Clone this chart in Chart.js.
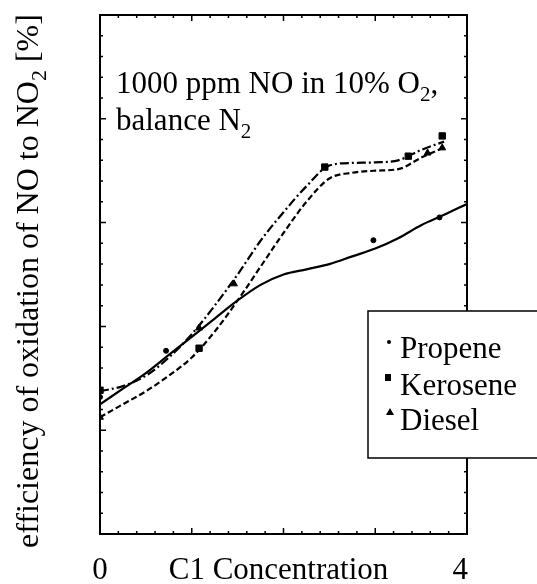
<!DOCTYPE html>
<html>
<head>
<meta charset="utf-8">
<script src="https://cdn.jsdelivr.net/npm/chart.js@4.4.0/dist/chart.umd.min.js"></script>
<style>
html, body { margin: 0; padding: 0; background: #fff; }
</style>
</head>
<body>
<canvas id="myChart" width="537" height="584"></canvas>
<script>
// Fitted curves
const fitX = [0, 0.25, 0.5, 0.75, 1, 1.25, 1.5, 1.75, 2, 2.25, 2.5, 2.75, 3, 3.25, 3.5, 3.75, 4];
const propeneFit  = [25, 28, 31, 34.5, 38, 41.5, 45, 48, 50, 51, 52, 53.5, 55, 57, 59.5, 61.5, 63.6];
const keroseneFit = [22.5, 25, 27.5, 30.5, 34, 39, 45, 51.5, 58, 64, 68.5, 69.6, 70, 70.3, 72.5, 74.5, null];
const dieselFit   = [27.5, 28.5, 30.5, 34, 38.5, 44, 50, 56.5, 62, 67, 71, 71.5, 71.6, 72, 74, 75.6, null];

// Measured points
const propeneX  = [0, 0.72, 2.98, 3.7];
const propeneY  = [26.4, 35.3, 56.6, 61];
const keroseneX = [0, 1.08, 2.45, 3.36, 3.73];
const keroseneY = [27.7, 35.8, 70.7, 72.8, 76.7];
const dieselX   = [0, 1.08, 1.46, 3.57, 3.73];
const dieselY   = [22.5, 39.7, 48.2, 73.4, 74.4];

const seriesNames = ['Propene', 'Kerosene', 'Diesel'];
const xTickLabels = ['0', '4'];
const xTitle = 'C1 Concentration';

const serif = '"Liberation Serif", "Times New Roman", serif';

function pts(xs, ys) {
    return xs.map((x, i) => ({x: x, y: ys[i]}));
}

// draws text pieces, a piece with true as 2nd item is a subscript
function drawParts(ctx, parts, x, y, size) {
    for (const p of parts) {
        const s = p[1] ? Math.round(size * 0.68) : size;
        ctx.font = s + 'px ' + serif;
        ctx.fillText(p[0], x, y + (p[1] ? size * 0.26 : 0));
        x += ctx.measureText(p[0]).width;
    }
}
function partsWidth(ctx, parts, size) {
    let w = 0;
    for (const p of parts) {
        const s = p[1] ? Math.round(size * 0.68) : size;
        ctx.font = s + 'px ' + serif;
        w += ctx.measureText(p[0]).width;
    }
    return w;
}

const framePlugin = {
    id: 'frame',
    afterDraw(chart) {
        const ctx = chart.ctx;
        const a = chart.chartArea;
        const xs = chart.scales.x, ys = chart.scales.y;
        ctx.save();
        ctx.strokeStyle = '#000';
        ctx.fillStyle = '#000';

        // frame
        ctx.lineWidth = 2;
        ctx.strokeRect(a.left, a.top, a.right - a.left, a.bottom - a.top);

        // inward ticks on all four sides
        ctx.lineWidth = 1.5;
        ctx.beginPath();
        for (let i = 0; i <= 20; i++) {
            const px = xs.getPixelForValue(i * 0.2);
            const len = (i % 5 === 0) ? 6 : 3;
            ctx.moveTo(px, a.bottom); ctx.lineTo(px, a.bottom - len);
            ctx.moveTo(px, a.top); ctx.lineTo(px, a.top + len);
        }
        for (let i = 0; i <= 25; i++) {
            const py = ys.getPixelForValue(i * 4);
            const len = (i % 5 === 0) ? 6 : 3;
            ctx.moveTo(a.left, py); ctx.lineTo(a.left + len, py);
            ctx.moveTo(a.right, py); ctx.lineTo(a.right - len, py);
        }
        ctx.stroke();

        // x tick labels and title
        ctx.font = '31px ' + serif;
        ctx.textBaseline = 'alphabetic';
        ctx.textAlign = 'center';
        ctx.fillText(xTickLabels[0], xs.getPixelForValue(0), 579);
        ctx.textAlign = 'right';
        ctx.fillText(xTickLabels[1], xs.getPixelForValue(4) + 1, 579);
        ctx.textAlign = 'center';
        ctx.fillText(xTitle, xs.getPixelForValue(2) - 5, 579);

        // y title, rotated
        ctx.textAlign = 'left';
        const yParts = [['efficiency of oxidation of NO to NO'], ['2', true], [' [%]']];
        const yw = partsWidth(ctx, yParts, 32);
        ctx.save();
        ctx.translate(38, 281);
        ctx.rotate(-Math.PI / 2);
        drawParts(ctx, yParts, -yw / 2, 0, 32);
        ctx.restore();

        // annotation
        drawParts(ctx, [['1000 ppm NO in 10% O'], ['2', true], [',']], 116, 93, 31);
        drawParts(ctx, [['balance N'], ['2', true]], 116, 130, 31);

        // legend box
        ctx.fillStyle = '#fff';
        ctx.fillRect(368, 311, 175, 147);
        ctx.lineWidth = 1.5;
        ctx.strokeRect(368, 311, 175, 147);
        ctx.fillStyle = '#000';
        ctx.font = '31px ' + serif;
        const rows = [358, 395, 430];
        ctx.fillText(seriesNames[0], 400, rows[0]);
        ctx.fillText(seriesNames[1], 400, rows[1]);
        ctx.fillText(seriesNames[2], 400, rows[2]);
        ctx.beginPath(); ctx.arc(389, 342, 2, 0, Math.PI * 2); ctx.fill();
        ctx.fillRect(385, 374, 6, 7);
        ctx.beginPath(); ctx.moveTo(390, 408); ctx.lineTo(394, 415); ctx.lineTo(386, 415); ctx.closePath(); ctx.fill();

        ctx.restore();
    }
};

const ctx = document.getElementById('myChart').getContext('2d');
const myChart = new Chart(ctx, {
    type: 'line',
    data: {
        datasets: [
            {
                label: 'Propene fit',
                data: pts(fitX, propeneFit),
                borderColor: '#000',
                borderWidth: 2.2,
                pointRadius: 0,
                cubicInterpolationMode: 'monotone',
                fill: false
            },
            {
                label: 'Kerosene fit',
                data: pts(fitX, keroseneFit),
                borderColor: '#000',
                borderWidth: 2.2,
                borderDash: [6, 3],
                pointRadius: 0,
                cubicInterpolationMode: 'monotone',
                fill: false
            },
            {
                label: 'Diesel fit',
                data: pts(fitX, dieselFit),
                borderColor: '#000',
                borderWidth: 2.2,
                borderDash: [9, 3, 2, 3],
                pointRadius: 0,
                cubicInterpolationMode: 'monotone',
                fill: false
            },
            {
                type: 'scatter',
                label: seriesNames[0],
                data: pts(propeneX, propeneY),
                pointStyle: 'circle',
                pointRadius: 2.5,
                backgroundColor: '#000',
                borderColor: '#000',
                showLine: false
            },
            {
                type: 'scatter',
                label: seriesNames[1],
                data: pts(keroseneX, keroseneY),
                pointStyle: 'rect',
                pointRadius: 4.5,
                backgroundColor: '#000',
                borderColor: '#000',
                showLine: false
            },
            {
                type: 'scatter',
                label: seriesNames[2],
                data: pts(dieselX, dieselY),
                pointStyle: 'triangle',
                pointRadius: 4,
                backgroundColor: '#000',
                borderColor: '#000',
                showLine: false
            }
        ]
    },
    options: {
        responsive: false,
        animation: false,
        layout: { padding: { left: 100, top: 15, right: 70, bottom: 50 } },
        scales: {
            x: { type: 'linear', min: 0, max: 4, display: false },
            y: { type: 'linear', min: 0, max: 100, display: false }
        },
        plugins: {
            legend: { display: false },
            tooltip: { enabled: false }
        }
    },
    plugins: [framePlugin]
});
</script>
</body>
</html>
